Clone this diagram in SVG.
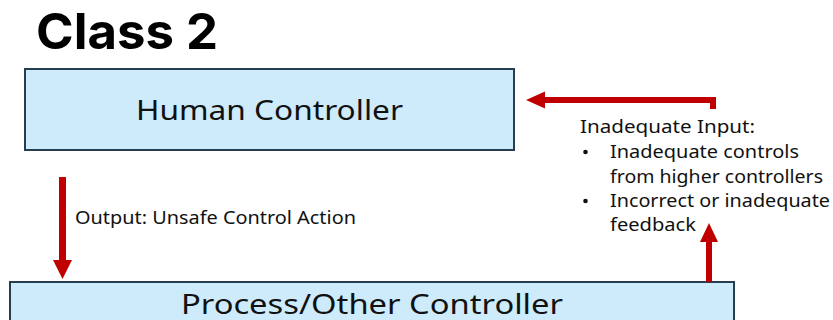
<svg xmlns="http://www.w3.org/2000/svg" width="833" height="320" viewBox="0 0 833 320">
  <style>
    .box { fill: #cdebfb; stroke: #263e50; stroke-width: 2; }
    .title { font-family: "Inter", "Liberation Sans", sans-serif; font-weight: 700; font-size: 50px; fill: #000; }
    .node-label { font-family: "Noto Sans", "Liberation Sans", sans-serif; font-size: 28px; fill: #111; }
    .note { font-family: "Noto Sans", "Liberation Sans", sans-serif; font-size: 17.5px; fill: #111; }
    .arrow { fill: #c00000; stroke: none; }
  </style>

  <rect width="833" height="320" fill="#ffffff"/>

  <text class="title" x="36" y="49" textLength="182" lengthAdjust="spacingAndGlyphs">Class 2</text>

  <g id="human-controller">
    <rect class="box" x="25" y="69" width="489" height="81"/>
    <text class="node-label" x="136" y="120" textLength="267" lengthAdjust="spacingAndGlyphs">Human Controller</text>
  </g>

  <g id="process-controller">
    <rect class="box" x="10" y="282" width="724" height="50"/>
    <text class="node-label" x="181" y="314" textLength="382" lengthAdjust="spacingAndGlyphs">Process/Other Controller</text>
  </g>

  <g id="connectors">
    <!-- control action: human controller down to process -->
    <polygon class="arrow" points="59,177 66,177 66,260 72,260 62.5,279 53,260 59,260"/>
    <!-- feedback: process up toward the input note -->
    <polygon class="arrow" points="706,282 712,282 712,242 718,242 709,223 700,242 706,242"/>
    <!-- inadequate input: bent arrow back into the human controller -->
    <polygon class="arrow" points="716,109 710,109 710,103 545,103 545,108.5 526,100 545,91.5 545,97 716,97"/>
  </g>

  <g id="labels">
    <text class="note" x="75" y="224" textLength="281" lengthAdjust="spacingAndGlyphs">Output: Unsafe Control Action</text>
    <text class="note" x="580" y="133" textLength="175" lengthAdjust="spacingAndGlyphs">Inadequate Input:</text>
    <circle cx="585.5" cy="152" r="2.3" fill="#111"/>
    <text class="note" x="610" y="158" textLength="189" lengthAdjust="spacingAndGlyphs">Inadequate controls</text>
    <text class="note" x="610" y="183" textLength="213" lengthAdjust="spacingAndGlyphs">from higher controllers</text>
    <circle cx="585.5" cy="201" r="2.3" fill="#111"/>
    <text class="note" x="610" y="207" textLength="220" lengthAdjust="spacingAndGlyphs">Incorrect or inadequate</text>
    <text class="note" x="610" y="231" textLength="86" lengthAdjust="spacingAndGlyphs">feedback</text>
  </g>
</svg>
